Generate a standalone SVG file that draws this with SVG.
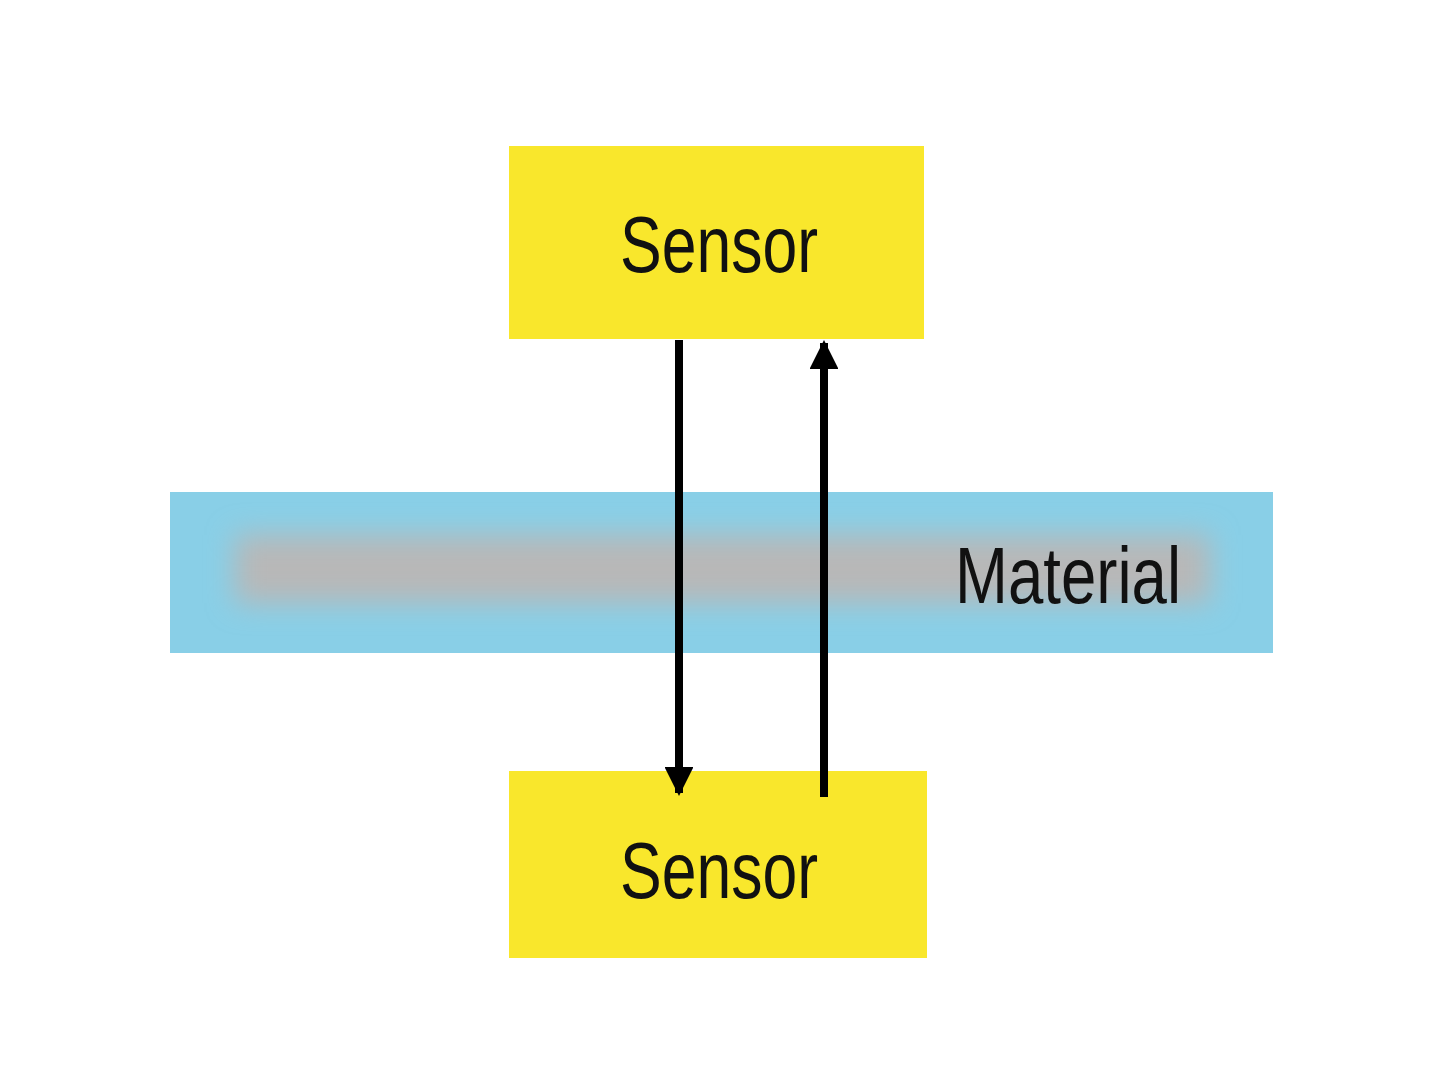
<svg xmlns="http://www.w3.org/2000/svg" width="1440" height="1080" viewBox="0 0 1440 1080">
<style>
.sensor{fill:#f9e72c}
.lbl{font-family:"Liberation Sans",Arial,sans-serif;font-size:80px;fill:#111}
.conn{stroke:#000;stroke-width:8;fill:none}
</style>
<defs>
<filter id="blur" x="-10%" y="-50%" width="120%" height="200%"><feGaussianBlur stdDeviation="14"/></filter>
<marker id="ah" viewBox="0 0 10 10" refX="9" refY="5" markerWidth="3.6" markerHeight="3.6" markerUnits="strokeWidth" orient="auto"><path d="M0,0 L10,5 L0,10 z" fill="#000"/></marker>
</defs>
<rect width="1440" height="1080" fill="#fff"/>
<g id="material">
<rect x="170" y="492" width="1103" height="161" fill="#89cfe7"/>
<rect x="235" y="535" width="975" height="68" fill="#b8b8b8" filter="url(#blur)"/>
<text class="lbl" x="955" y="603" textLength="226" lengthAdjust="spacingAndGlyphs">Material</text>
</g>
<g id="sensor-top">
<rect class="sensor" x="509" y="146" width="415" height="193"/>
<text class="lbl" x="620" y="272" textLength="198" lengthAdjust="spacingAndGlyphs">Sensor</text>
</g>
<g id="sensor-bottom">
<rect class="sensor" x="509" y="771" width="418" height="187"/>
<text class="lbl" x="620" y="898" textLength="198" lengthAdjust="spacingAndGlyphs">Sensor</text>
</g>
<g id="connectors">
<line class="conn" x1="679" y1="340" x2="679" y2="793" marker-end="url(#ah)"/>
<line class="conn" x1="824" y1="797" x2="824" y2="343" marker-end="url(#ah)"/>
</g>
</svg>
